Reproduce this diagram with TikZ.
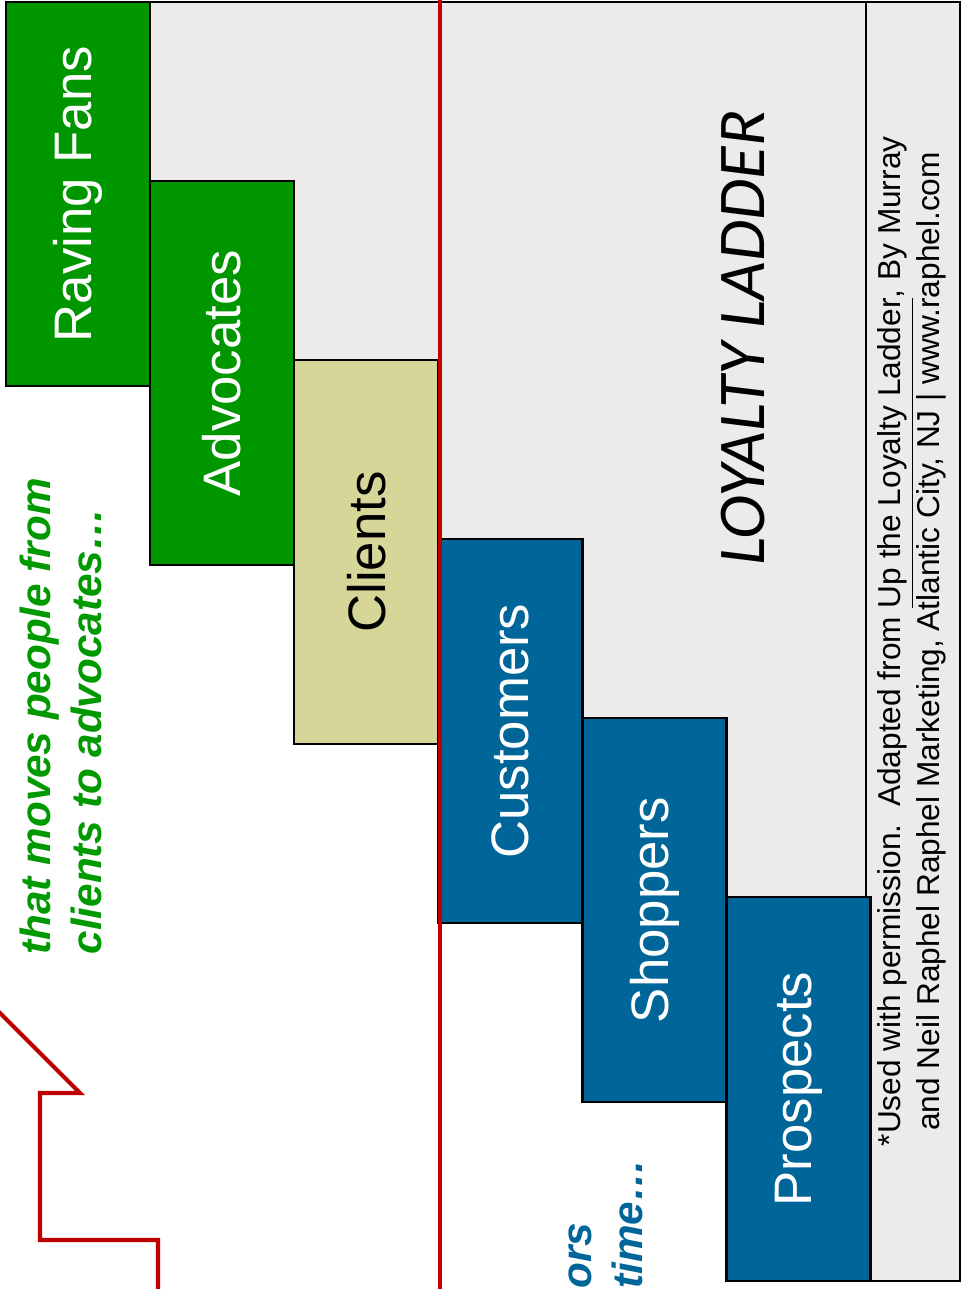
\documentclass[tikz,border=0pt]{standalone}
\usepackage{fontspec}
\setmainfont{Liberation Sans}
\newfontfamily\ladderfont{Carlito}
\usetikzlibrary{positioning,calc,backgrounds}
\definecolor{fangreen}{HTML}{009600}
\definecolor{rungblue}{HTML}{006699}
\definecolor{clientkhaki}{HTML}{D6D699}
\definecolor{laddergray}{HTML}{EBEBEB}
\definecolor{ladderred}{HTML}{C00000}
\definecolor{notegreen}{HTML}{009900}
\tikzset{
rung/.style={rectangle,draw=black,line width=0.7pt,inner sep=0,outer sep=0,
  minimum width=1.44cm,minimum height=3.84cm,anchor=north west,
  font=\fontsize{15}{18}\selectfont},
greenrung/.style={rung,fill=fangreen,text=white},
bluerung/.style={rung,fill=rungblue,text=white},
citebox/.style={rectangle,draw=black,line width=0.7pt,fill=laddergray,inner sep=0,outer sep=0,
  minimum width=0.94cm,minimum height=12.78cm,anchor=north west,
  font=\fontsize{9}{10}\selectfont},
note/.style={rotate=90,inner sep=0,align=left,anchor=north west,
  font=\fontsize{12}{14.5}\selectfont\bfseries\itshape},
redline/.style={draw=ladderred,line width=1.4pt},
redarrow/.style={draw=ladderred,line width=1.2pt,line join=miter},
}
\begin{document}
\begin{tikzpicture}[x=0.01cm,y=-0.01cm]
	\useasboundingbox (0,0) rectangle (963,1289);
	\clip (0,0) rectangle (963,1289);

	\node[citebox] (cite) at (866,2) {\rotatebox{90}{\begin{tabular}{@{}c@{}}
		*Used with permission.\ \ Adapted from \underline{Up the Loyalty Ladder}, By Murray\\
		and Neil Raphel Raphel Marketing, Atlantic City, NJ | www.raphel.com
		\end{tabular}}};

	% the rungs of the ladder
	\node[greenrung] (fans) at (6,2) {\rotatebox{90}{Raving Fans}};
	\node[greenrung] (adv) at ($(fans.north east)+(0,179)$) {\rotatebox{90}{Advocates}};
	\node[rung,fill=clientkhaki] (cli) at ($(adv.north east)+(0,179)$) {\rotatebox{90}{Clients}};
	\node[bluerung] (cust) at ($(cli.north east)+(0,179)$) {\rotatebox{90}{Customers}};
	\node[bluerung] (shop) at ($(cust.north east)+(0,179)$) {\rotatebox{90}{Shoppers}};
	\node[bluerung] (pros) at ($(shop.north east)+(0,179)$) {\rotatebox{90}{Prospects}};

	\begin{scope}[on background layer]
		\fill[white] (0,0) rectangle (963,1289);
		\filldraw[fill=laddergray,draw=black,line width=0.7pt]
			(fans.north east) -- (cite.north west) -- (cite.west |- pros.north)
			-- (pros.north west) -- (shop.north east) -- (shop.north west)
			-- (cust.north east) -- (cust.north west) -- (cli.north east)
			-- (cli.north west) -- (adv.north east) -- (adv.north west) -- cycle;
	\end{scope}

	\node[rotate=90,inner sep=0,font=\ladderfont\itshape\fontsize{19}{23}\selectfont]
		(title) at (743,338) {LOYALTY LADDER};

	% divider and arrow
	\draw[redline] (440,-10) -- (440,1300);
	\draw[redarrow] (-20,993) -- (80,1093) -- (40,1093) -- (40,1240)
		-- (158,1240) -- (158,1300);

	% side notes
	\node[note,text=notegreen] (upper) at (19,955) {that moves people from\\clients to advocates…};
	\node[note,text=rungblue] (lower) at (568,1289) {ors\\time…};
\end{tikzpicture}
\end{document}
